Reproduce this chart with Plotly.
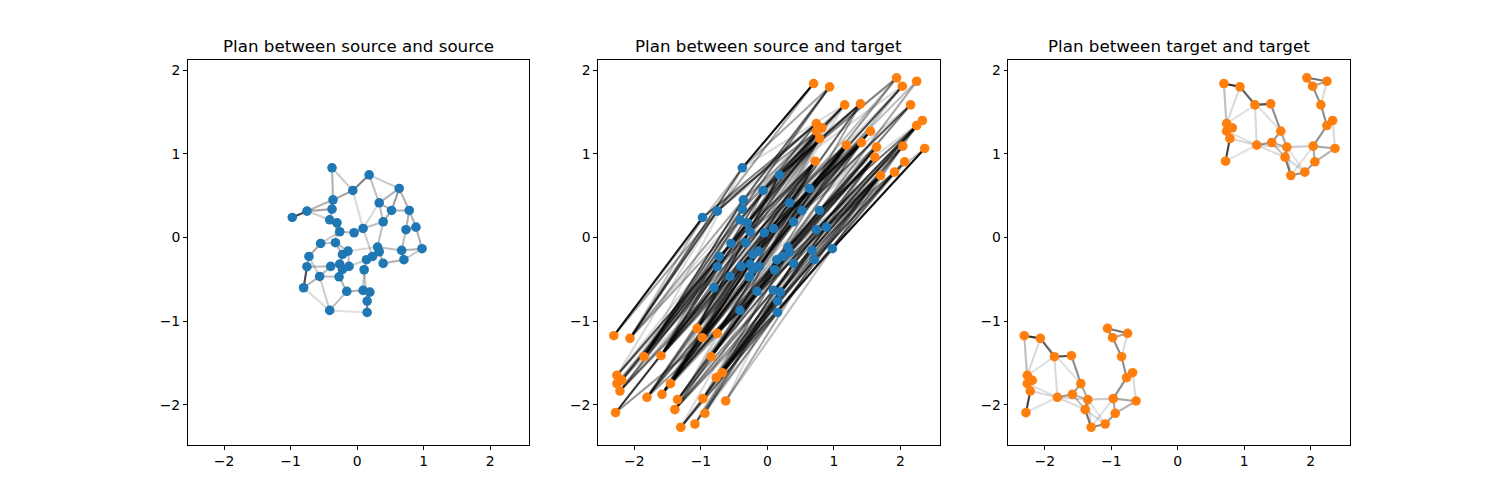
import plotly.graph_objects as go

# ---------------- data ----------------
src_x = [-0.377, 0.181, 0.633, -0.065, -0.362, -0.754, -0.975, -0.377, 0.332, 0.518,
         0.784, 0.392, -0.412, -0.302, 0.090, -0.261, -0.045, 0.735, 0.885, 0.976,
         0.670, 0.704, -0.548, -0.326, 0.308, 0.332, -0.136, -0.220, -0.724, 0.232,
         0.142, 0.392, -0.754, -0.397, -0.261, -0.121, -0.220, 0.106, -0.563, -0.271,
         -0.804, -0.155, 0.090, 0.192, 0.151, -0.412, 0.151]
src_y = [0.832, 0.748, 0.585, 0.561, 0.450, 0.314, 0.239, 0.338, 0.414, 0.322,
         0.322, 0.187, 0.211, 0.175, 0.107, 0.068, 0.056, 0.092, 0.123, -0.135,
         -0.155, -0.266, -0.072, -0.063, -0.115, -0.171, -0.163, -0.203, -0.227, -0.227,
         -0.266, -0.310, -0.350, -0.346, -0.318, -0.346, -0.382, -0.386, -0.466, -0.470,
         -0.601, -0.645, -0.633, -0.653, -0.760, -0.872, -0.896]

tgt_x = [0.694, 0.935, 1.161, 1.398, 1.941, 2.243, 2.027, 2.152, 2.329, 2.243,
         0.735, 0.820, 0.735, 0.784, 1.549, 1.413, 1.187, 1.640, 2.036, 2.364,
         1.614, 2.062, 1.911, 1.700, 0.719,
         -2.308, -2.066, -1.855, -1.599, -1.056, -0.754, -0.980, -0.845, -0.679, -0.769,
         -2.262, -2.187, -2.262, -2.217, -1.457, -1.584, -1.810, -1.351, -0.970, -0.627,
         -1.392, -0.940, -1.090, -1.302, -2.282]
tgt_y = [1.839, 1.799, 1.584, 1.596, 1.907, 1.866, 1.807, 1.584, 1.397, 1.337,
         1.361, 1.310, 1.270, 1.182, 1.270, 1.134, 1.103, 1.079, 1.091, 1.063,
         0.959, 0.904, 0.780, 0.740, 0.911,
         -1.174, -1.206, -1.425, -1.413, -1.087, -1.146, -1.198, -1.425, -1.616, -1.675,
         -1.648, -1.707, -1.747, -1.835, -1.747, -1.875, -1.910, -1.938, -1.926, -1.954,
         -2.057, -2.101, -2.229, -2.268, -2.093]

# plan source-source: (i, j, weight), 1-based
plan_ss = [(1,5,0.3),(1,4,0.2),(2,4,0.5),(2,3,0.2),(2,9,0.25),(3,9,0.3),(3,10,0.4),
           (3,11,0.3),(4,5,0.35),(5,6,0.3),(5,8,0.3),(6,7,0.75),(6,8,0.35),(6,13,0.2),
           (8,13,0.3),(9,10,0.3),(9,12,0.25),(10,11,0.3),(10,12,0.35),(11,18,0.3),
           (11,19,0.3),(18,19,0.35),(18,21,0.25),(19,20,0.3),(20,21,0.3),(21,22,0.4),
           (20,22,0.2),(12,15,0.25),(12,25,0.25),(15,30,0.2),(13,14,0.4),(13,16,0.3),
           (14,16,0.3),(16,17,0.3),(17,15,0.3),(23,29,0.35),(23,24,0.25),(23,16,0.2),
           (24,27,0.25),(24,28,0.3),(29,33,0.35),(33,41,0.7),(33,34,0.25),(29,39,0.2),
           (39,41,0.3),(39,40,0.25),(39,34,0.25),(40,42,0.3),(42,43,0.3),(43,44,0.45),
           (44,45,0.35),(45,47,0.5),(42,46,0.25),(46,39,0.2),(30,31,0.35),(31,38,0.3),
           (38,43,0.25),(32,26,0.3),(32,22,0.3),(25,26,0.4),(26,30,0.3),(35,36,0.3),
           (36,37,0.3),(37,40,0.3),(34,35,0.3),(27,28,0.35),(28,35,0.25),(27,36,0.25),
           (25,21,0.25),(4,15,0.15),(9,15,0.15),(31,36,0.2),(38,45,0.2),(41,46,0.15),
           (46,47,0.12),(27,25,0.15),(14,24,0.2)]

# plan target-target, 1-based (upper cluster 1-25, lower cluster 26-50)
plan_tt = [(1,2,0.8),(1,11,0.15),(1,13,0.12),(2,3,0.6),(2,11,0.15),(2,15,0.12),(3,4,0.7),
           (3,11,0.12),(3,17,0.15),(4,15,0.45),(11,12,0.45),(11,13,0.35),(12,13,0.35),
           (13,14,0.55),(14,25,0.75),(14,17,0.15),(13,17,0.12),(25,17,0.12),(17,16,0.4),
           (16,15,0.4),(15,18,0.35),(16,18,0.3),(16,21,0.25),(17,21,0.15),(18,21,0.6),
           (21,24,0.55),(24,23,0.45),(23,22,0.4),(22,19,0.35),(19,18,0.2),(19,20,0.35),
           (20,22,0.3),(19,10,0.45),(10,9,0.5),(20,9,0.15),(8,10,0.45),(8,7,0.45),
           (7,5,0.5),(5,6,0.55),(6,8,0.15),(7,6,0.35),(18,24,0.15),(21,23,0.15),(18,23,0.12),
           (24,19,0.12),(17,18,0.15),
           (26,27,0.8),(26,36,0.15),(26,38,0.12),(27,28,0.6),(27,36,0.15),(27,40,0.12),(28,29,0.7),
           (28,36,0.12),(28,42,0.15),(29,40,0.45),(36,37,0.45),(36,38,0.35),(37,38,0.35),
           (38,39,0.55),(39,50,0.75),(39,42,0.15),(38,42,0.12),(50,42,0.12),(42,41,0.4),
           (41,40,0.4),(40,43,0.35),(41,43,0.3),(41,46,0.25),(42,46,0.15),(43,46,0.6),
           (46,49,0.55),(49,48,0.45),(48,47,0.4),(47,44,0.35),(44,43,0.2),(44,45,0.35),
           (45,47,0.3),(44,35,0.45),(35,34,0.5),(45,34,0.15),(33,35,0.45),(33,32,0.45),
           (32,30,0.5),(30,31,0.55),(31,33,0.15),(32,31,0.35),(43,49,0.15),(46,48,0.15),(43,48,0.12),
           (49,44,0.12),(42,43,0.15)]

# plan source-target, (source, target, weight), 1-based
plan_st = [
    (1,1,0.95),(1,2,0.35),(1,27,0.6),(1,26,0.25),(1,3,0.15),(1,28,0.15),
    (2,4,0.7),(2,5,0.4),(2,30,0.7),(2,29,0.35),(2,7,0.15),(2,32,0.15),
    (3,7,0.7),(3,5,0.4),(3,6,0.25),(3,31,0.7),(3,30,0.35),(3,8,0.15),(3,33,0.15),
    (4,3,0.7),(4,4,0.35),(4,29,0.6),(4,30,0.35),(4,5,0.15),(4,28,0.15),
    (5,2,0.6),(5,3,0.35),(5,28,0.7),(5,27,0.35),(5,4,0.15),(5,29,0.15),
    (6,11,0.7),(6,1,0.35),(6,27,0.7),(6,26,0.35),(6,12,0.15),(6,36,0.15),
    (7,11,0.5),(7,12,0.35),(7,26,0.9),(7,27,0.25),
    (8,2,0.5),(8,3,0.4),(8,28,0.6),(8,29,0.25),(8,11,0.15),(8,27,0.15),
    (9,4,0.6),(9,15,0.35),(9,5,0.25),(9,30,0.6),(9,32,0.35),(9,7,0.15),(9,29,0.15),
    (10,8,0.6),(10,15,0.35),(10,7,0.25),(10,32,0.7),(10,31,0.35),(10,9,0.15),
    (11,8,0.5),(11,9,0.4),(11,6,0.35),(11,31,0.6),(11,32,0.25),(11,10,0.25),(11,33,0.15),
    (12,15,0.6),(12,4,0.35),(12,32,0.6),(12,30,0.35),(12,8,0.15),(12,33,0.15),
    (13,11,0.5),(13,12,0.4),(13,28,0.5),(13,27,0.35),(13,13,0.15),(13,36,0.15),
    (14,12,0.6),(14,3,0.25),(14,29,0.5),(14,28,0.35),(14,17,0.15),
    (15,15,0.6),(15,16,0.4),(15,29,0.6),(15,32,0.25),(15,18,0.15),(15,40,0.15),
    (16,12,0.4),(16,17,0.4),(16,29,0.5),(16,28,0.35),(16,14,0.15),(16,36,0.15),
    (17,16,0.6),(17,15,0.35),(17,29,0.4),(17,40,0.35),(17,3,0.15),(17,41,0.15),
    (18,10,0.7),(18,19,0.35),(18,33,0.6),(18,31,0.35),(18,9,0.25),(18,34,0.15),
    (19,10,0.5),(19,9,0.5),(19,31,0.4),(19,34,0.5),(19,20,0.25),(19,35,0.15),
    (20,20,0.95),(20,10,0.35),(20,34,0.6),(20,35,0.35),(20,45,0.25),
    (21,19,0.6),(21,22,0.35),(21,34,0.5),(21,35,0.4),(21,10,0.15),(21,44,0.15),
    (22,19,0.5),(22,22,0.4),(22,35,0.6),(22,34,0.25),(22,45,0.35),
    (23,14,0.6),(23,13,0.4),(23,28,0.4),(23,36,0.5),(23,12,0.15),
    (24,17,0.5),(24,14,0.35),(24,28,0.4),(24,29,0.35),(24,16,0.15),(24,41,0.15),
    (25,18,0.6),(25,16,0.35),(25,33,0.5),(25,40,0.35),(25,21,0.15),(25,44,0.15),
    (26,18,0.5),(26,21,0.4),(26,33,0.5),(26,35,0.35),(26,19,0.15),(26,44,0.15),
    (27,17,0.5),(27,16,0.35),(27,40,0.5),(27,29,0.35),(27,18,0.15),(27,42,0.15),
    (28,17,0.4),(28,14,0.35),(28,40,0.4),(28,41,0.4),(28,16,0.15),(28,42,0.15),
    (29,25,0.6),(29,14,0.35),(29,37,0.6),(29,36,0.35),(29,38,0.25),
    (30,18,0.4),(30,21,0.4),(30,40,0.5),(30,33,0.35),(30,24,0.15),(30,43,0.15),
    (31,21,0.5),(31,16,0.35),(31,40,0.4),(31,43,0.4),(31,18,0.15),(31,46,0.15),
    (32,21,0.4),(32,24,0.4),(32,35,0.4),(32,44,0.5),(32,47,0.25),(32,45,0.15),
    (33,25,0.5),(33,14,0.4),(33,39,0.6),(33,37,0.35),(33,38,0.35),
    (34,25,0.4),(34,17,0.35),(34,42,0.5),(34,41,0.35),(34,14,0.15),(34,39,0.15),
    (35,17,0.4),(35,25,0.35),(35,41,0.5),(35,40,0.35),(35,16,0.15),
    (36,17,0.4),(36,16,0.35),(36,40,0.4),(36,41,0.4),(36,21,0.15),(36,46,0.15),
    (37,17,0.35),(37,25,0.35),(37,41,0.4),(37,42,0.4),(37,14,0.15),
    (38,21,0.5),(38,24,0.35),(38,43,0.6),(38,40,0.35),(38,23,0.15),(38,47,0.15),
    (39,25,0.5),(39,14,0.25),(39,42,0.5),(39,39,0.4),(39,38,0.15),
    (40,25,0.4),(40,17,0.35),(40,41,0.5),(40,42,0.35),(40,24,0.15),(40,46,0.15),
    (41,25,0.7),(41,13,0.25),(41,50,0.8),(41,39,0.35),
    (42,17,0.4),(42,24,0.35),(42,46,0.5),(42,41,0.35),(42,21,0.15),(42,49,0.15),
    (43,24,0.5),(43,21,0.4),(43,46,0.5),(43,43,0.4),(43,23,0.15),(43,48,0.15),
    (44,24,0.5),(44,21,0.35),(44,23,0.25),(44,46,0.4),(44,48,0.35),(44,47,0.35),(44,44,0.15),
    (45,24,0.5),(45,23,0.4),(45,49,0.6),(45,46,0.35),(45,22,0.15),(45,48,0.15),
    (46,25,0.4),(46,24,0.35),(46,42,0.4),(46,50,0.4),(46,21,0.15),
    (47,24,0.5),(47,23,0.5),(47,22,0.25),(47,49,0.6),(47,48,0.4),(47,47,0.15),
]

titles = ["Plan between source and source", "Plan between source and target",
          "Plan between target and target"]
tick_vals = [-2, -1, 0, 1, 2]
tick_text = ["\u22122", "\u22121", "0", "1", "2"]

BLUE = "#1f77b4"
ORANGE = "#ff7f0e"

# ---------------- figure ----------------
fig = go.Figure()

def add_edges(xa, ya, xb, yb, edges, axis):
    for (i, j, w) in edges:
        fig.add_trace(go.Scatter(
            x=[xa[i - 1], xb[j - 1]], y=[ya[i - 1], yb[j - 1]],
            mode="lines", line=dict(color=f"rgba(0,0,0,{w})", width=2.08),
            hoverinfo="skip", showlegend=False,
            xaxis=axis[0], yaxis=axis[1]))

def add_points(xs, ys, color, axis):
    fig.add_trace(go.Scatter(
        x=xs, y=ys, mode="markers",
        marker=dict(color=color, size=9.6, line=dict(width=0)),
        showlegend=False, xaxis=axis[0], yaxis=axis[1]))

ax1 = ("x", "y")
ax2 = ("x2", "y2")
ax3 = ("x3", "y3")

add_edges(src_x, src_y, src_x, src_y, plan_ss, ax1)
add_points(src_x, src_y, BLUE, ax1)

add_edges(src_x, src_y, tgt_x, tgt_y, plan_st, ax2)
add_points(src_x, src_y, BLUE, ax2)
add_points(tgt_x, tgt_y, ORANGE, ax2)

add_edges(tgt_x, tgt_y, tgt_x, tgt_y, plan_tt, ax3)
add_points(tgt_x, tgt_y, ORANGE, ax3)

domains = [[0.125, 0.3529], [0.3985, 0.6265], [0.6721, 0.9]]
font = dict(family="DejaVu Sans", size=13.9, color="black")

axis_common = dict(showgrid=False, zeroline=False, showline=True, linecolor="black",
                   linewidth=1, mirror=True, ticks="outside", ticklen=3.5,
                   tickwidth=1, tickcolor="black", tickfont=font,
                   tickmode="array", tickvals=tick_vals, ticktext=tick_text)

layout = dict(width=1500, height=500, margin=dict(l=0, r=0, t=0, b=0),
              paper_bgcolor="white", plot_bgcolor="white", showlegend=False,
              font=font)
for k, d in enumerate(domains):
    sfx = "" if k == 0 else str(k + 1)
    layout["xaxis" + sfx] = dict(axis_common, domain=d, range=[-2.55, 2.59],
                                 anchor="y" + sfx)
    layout["yaxis" + sfx] = dict(axis_common, domain=[0.11, 0.88], range=[-2.48, 2.12],
                                 anchor="x" + sfx)
fig.update_layout(**layout)

for k, d in enumerate(domains):
    fig.add_annotation(x=(d[0] + d[1]) / 2, y=0.908, xref="paper", yref="paper",
                       text=titles[k], showarrow=False, xanchor="center", yanchor="middle",
                       font=dict(family="DejaVu Sans", size=16.7, color="black"))

fig.write_html("out.html")
